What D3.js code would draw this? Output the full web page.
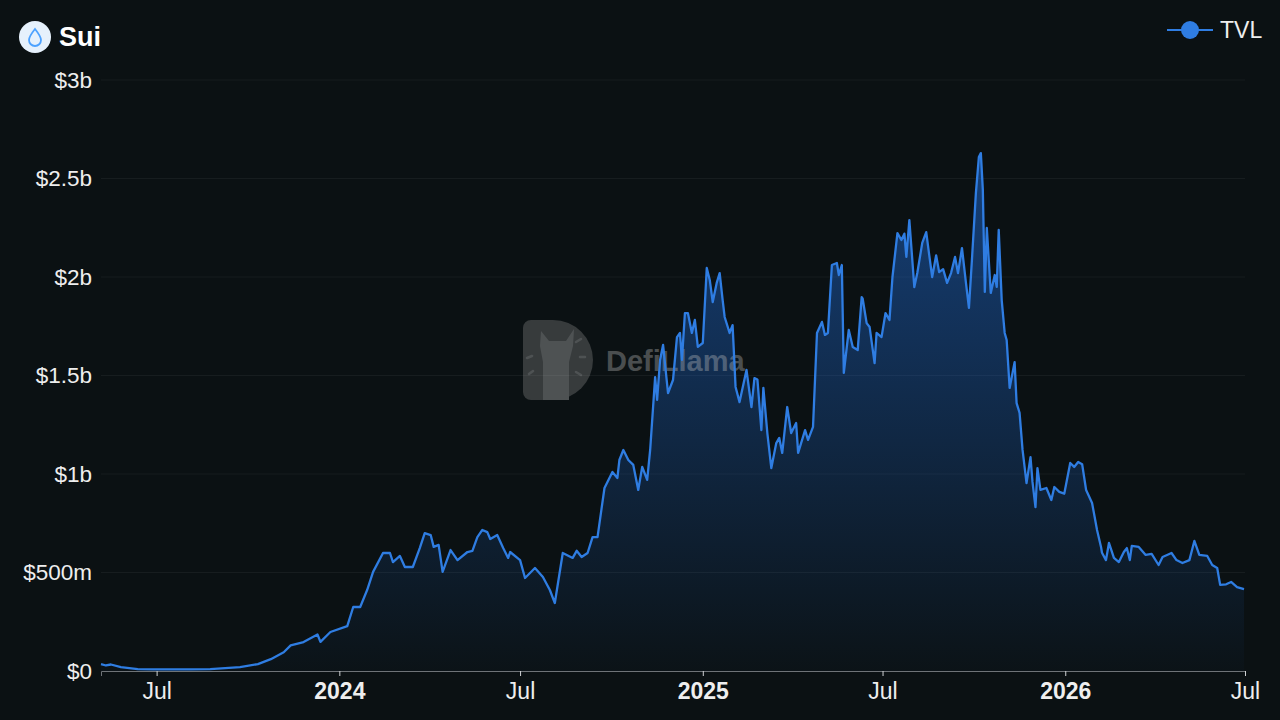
<!DOCTYPE html>
<html>
<head>
<meta charset="utf-8">
<script src="https://cdn.jsdelivr.net/npm/d3@7"></script>
<style>
  html, body { margin: 0; padding: 0; background: #0b1113; }
  svg { display: block; font-family: "Liberation Sans", Arial, sans-serif; }
</style>
</head>
<body>
<svg width="1280" height="720"></svg>
<script>
// TVL readings (USD millions)
const dates = [
  "2023-05-06","2023-05-11","2023-05-16","2023-05-26","2023-06-12","2023-06-28","2023-08-04","2023-08-24","2023-09-08",
  "2023-09-23","2023-10-11","2023-10-24","2023-11-06","2023-11-13","2023-11-26","2023-12-10","2023-12-13",
  "2023-12-23","2024-01-09","2024-01-15","2024-01-22","2024-01-29","2024-02-04","2024-02-14","2024-02-21",
  "2024-02-24","2024-03-02","2024-03-07","2024-03-15","2024-03-22","2024-03-27","2024-04-02","2024-04-05",
  "2024-04-10","2024-04-14","2024-04-22","2024-04-29","2024-05-09","2024-05-14","2024-05-19","2024-05-24",
  "2024-05-29","2024-06-01","2024-06-08","2024-06-14","2024-06-19","2024-06-21","2024-07-01","2024-07-06",
  "2024-07-16","2024-07-24","2024-07-31","2024-08-05","2024-08-13","2024-08-23","2024-08-27","2024-09-01",
  "2024-09-07","2024-09-12","2024-09-17","2024-09-24","2024-10-02","2024-10-07","2024-10-09","2024-10-13",
  "2024-10-18","2024-10-23","2024-10-28","2024-11-01","2024-11-06","2024-11-09","2024-11-14","2024-11-16",
  "2024-11-19","2024-11-22","2024-11-27","2024-12-02","2024-12-06","2024-12-09","2024-12-11","2024-12-14",
  "2024-12-17","2024-12-21","2024-12-24","2024-12-27","2025-01-01","2025-01-05","2025-01-08","2025-01-11",
  "2025-01-15","2025-01-18","2025-01-21","2025-01-23","2025-01-28","2025-01-31","2025-02-03","2025-02-07",
  "2025-02-14","2025-02-19","2025-02-22","2025-02-25","2025-03-01","2025-03-03","2025-03-07","2025-03-11",
  "2025-03-16","2025-03-19","2025-03-22","2025-03-27","2025-03-31","2025-04-05","2025-04-07","2025-04-14",
  "2025-04-17","2025-04-22","2025-04-26","2025-05-01","2025-05-04","2025-05-07","2025-05-11","2025-05-16",
  "2025-05-18","2025-05-21","2025-05-23","2025-05-28","2025-06-01","2025-06-06","2025-06-10","2025-06-11",
  "2025-06-15","2025-06-18","2025-06-23","2025-06-25","2025-06-30","2025-07-04","2025-07-08","2025-07-11",
  "2025-07-16","2025-07-20","2025-07-23","2025-07-25","2025-07-28","2025-08-02","2025-08-05","2025-08-10",
  "2025-08-14","2025-08-17","2025-08-20","2025-08-24","2025-08-27","2025-08-31","2025-09-04","2025-09-08",
  "2025-09-12","2025-09-15","2025-09-19","2025-09-23","2025-09-26","2025-09-29","2025-10-03","2025-10-06",
  "2025-10-08","2025-10-10","2025-10-12","2025-10-14","2025-10-18","2025-10-22","2025-10-24","2025-10-26",
  "2025-10-29","2025-11-01","2025-11-03","2025-11-06","2025-11-11","2025-11-13","2025-11-16","2025-11-19",
  "2025-11-23","2025-11-27","2025-11-29","2025-12-02","2025-12-04","2025-12-07","2025-12-13","2025-12-18",
  "2025-12-21","2025-12-26","2025-12-31","2026-01-06","2026-01-10","2026-01-14","2026-01-18","2026-01-22",
  "2026-01-28","2026-02-02","2026-02-06","2026-02-07","2026-02-11","2026-02-14","2026-02-19","2026-02-24",
  "2026-03-01","2026-03-04","2026-03-07","2026-03-09","2026-03-16","2026-03-23","2026-03-29","2026-04-05",
  "2026-04-09","2026-04-18","2026-04-23","2026-04-29","2026-05-06","2026-05-11","2026-05-16","2026-05-24",
  "2026-05-29","2026-06-03","2026-06-06","2026-06-12","2026-06-17","2026-06-23","2026-06-30"
];
const tvl = [
  35, 28, 33, 20, 10, 8, 8, 10, 15,
  20, 35, 60, 95, 130, 147, 185, 148,
  198, 228, 325, 325, 411, 503, 599, 599,
  553, 584, 528, 528, 624, 700, 690, 630,
  640, 503, 614, 563, 604, 610, 680, 716,
  705, 670, 690, 624, 574, 604, 563, 472,
  523, 477, 411, 345, 599, 574, 610, 579,
  599, 680, 680, 929, 1010, 980, 1071, 1122,
  1071, 1046, 919, 1036, 970, 1122, 1492, 1376,
  1579, 1655, 1411, 1477, 1695, 1716, 1579, 1817,
  1817, 1716, 1782, 1645, 1665, 2046, 1985, 1873,
  1970, 2020, 1883, 1797, 1716, 1756, 1442, 1365,
  1528, 1340, 1487, 1480, 1223, 1437, 1208, 1030,
  1157, 1183, 1107, 1340, 1208, 1259, 1107, 1223,
  1173, 1239, 1716, 1772, 1706, 1716, 2061, 2071,
  2010, 2061, 1513, 1731, 1645, 1629, 1898, 1890,
  1766, 1746, 1563, 1716, 1695, 1817, 1782, 2000,
  2223, 2188, 2220, 2102, 2289, 1949, 2020, 2173,
  2228, 2112, 2000, 2110, 2025, 2040, 1970, 2020,
  2102, 2020, 2147, 1970, 1843, 2086, 2426, 2609,
  2629, 2442, 1924, 2249, 1919, 2010, 1950, 2239,
  1883, 1716, 1680, 1437, 1568, 1360, 1310, 1122,
  954, 1086, 960, 832, 1030, 919, 929, 868,
  934, 909, 900, 1056, 1036, 1061, 1050, 919,
  853, 716, 630, 600, 563, 650, 574, 553,
  604, 624, 563, 635, 630, 589, 595, 538,
  579, 599, 563, 548, 563, 660, 589, 584,
  538, 523, 437, 440, 452, 426, 416
];
const yTicks = [0, 500, 1000, 1500, 2000, 2500, 3000];
const yTickLabels = ["$0", "$500m", "$1b", "$1.5b", "$2b", "$2.5b", "$3b"];
const xTicks = ["2023-07-01", "2024-01-01", "2024-07-01", "2025-01-01", "2025-07-01", "2026-01-01", "2026-07-01"];
const xTickLabels = ["Jul", "2024", "Jul", "2025", "Jul", "2026", "Jul"];

const parse = d3.utcParse("%Y-%m-%d");
const data = dates.map((d, i) => ({date: parse(d), value: tvl[i]}));

const svg = d3.select("svg"),
      width = +svg.attr("width"),
      height = +svg.attr("height");
const margin = {top: 80, right: 35, bottom: 49, left: 101};

const x = d3.scaleUtc()
  .domain([data[0].date, parse("2026-07-01")])
  .range([margin.left, width - margin.right]);
const y = d3.scaleLinear()
  .domain([0, 3000])
  .range([height - margin.bottom, margin.top]);

const defs = svg.append("defs");
const grad = defs.append("linearGradient")
  .attr("id", "fill")
  .attr("gradientUnits", "userSpaceOnUse")
  .attr("x1", 0).attr("x2", 0)
  .attr("y1", y(2700)).attr("y2", y(0));
grad.append("stop").attr("offset", 0).attr("stop-color", "#2172e5").attr("stop-opacity", 0.5);
grad.append("stop").attr("offset", 1).attr("stop-color", "#2172e5").attr("stop-opacity", 0.02);

// grid
svg.append("g")
  .selectAll("line")
  .data(yTicks.slice(1))
  .join("line")
  .attr("x1", margin.left).attr("x2", width - margin.right)
  .attr("y1", d => y(d)).attr("y2", d => y(d))
  .attr("stroke", "#ffffff")
  .attr("stroke-opacity", 0.05);

// y axis
const yAxis = svg.append("g")
  .attr("transform", `translate(${margin.left},0)`)
  .call(d3.axisLeft(y).tickValues(yTicks).tickFormat((d, i) => yTickLabels[i]).tickSize(0).tickPadding(9));
yAxis.select(".domain").remove();
yAxis.selectAll("text")
  .attr("fill", "#eeeeee")
  .attr("font-size", 22.5);

// x axis
const xAxis = svg.append("g")
  .attr("transform", `translate(0,${height - margin.bottom})`)
  .call(d3.axisBottom(x).tickValues(xTicks.map(parse)).tickFormat((d, i) => xTickLabels[i]).tickSize(5).tickPadding(7));
xAxis.select(".domain").attr("stroke", "#6e7377");
xAxis.selectAll("line").attr("stroke", "#cfd2d4");
xAxis.selectAll("text")
  .attr("fill", "#eeeeee")
  .attr("font-size", 23)
  .attr("font-weight", (d, i) => xTickLabels[i] === "Jul" ? "normal" : "bold");

// area
svg.append("path")
  .datum(data)
  .attr("fill", "url(#fill)")
  .attr("d", d3.area().x(d => x(d.date)).y0(y(0)).y1(d => y(d.value)));

// watermark
const wm = svg.append("g").attr("opacity", 0.34);
wm.append("path")
  .attr("d", "M523,328 a8,8 0 0 1 8,-8 h22 a40,40 0 0 1 0,80 h-22 a8,8 0 0 1 -8,-8 z")
  .attr("fill", "#8c8c8c");
wm.append("path")
  .attr("d", "M541,331 L549,341 L566,341 L574,329 L573,346 L569,362 L569,400 L543,400 L543,362 L540,346 Z")
  .attr("fill", "#d0d0d0");
wm.append("g")
  .selectAll("line")
  .data([[527, 358, 532, 356], [529, 374, 533, 371], [576, 342, 581, 339], [580, 357, 585, 357], [576, 372, 581, 375]])
  .join("line")
  .attr("x1", d => d[0]).attr("y1", d => d[1]).attr("x2", d => d[2]).attr("y2", d => d[3])
  .attr("stroke", "#d0d0d0").attr("stroke-width", 2.5).attr("stroke-linecap", "round");
wm.append("text")
  .attr("x", 606).attr("y", 371)
  .attr("font-size", 29).attr("font-weight", "bold")
  .attr("fill", "#c4c4c4")
  .text("DefiLlama");

// line
svg.append("path")
  .datum(data)
  .attr("fill", "none")
  .attr("stroke", "#2f7de2")
  .attr("stroke-width", 2.3)
  .attr("stroke-linejoin", "round")
  .attr("d", d3.line().x(d => x(d.date)).y(d => y(d.value)));

// title
const title = svg.append("g").attr("transform", "translate(35,37)");
title.append("circle").attr("r", 16).attr("fill", "#e6f1fc");
title.append("path")
  .attr("d", "M0,-8 C4,-3 6,0 6,3 A6,6 0 0 1 -6,3 C-6,0 -4,-3 0,-8 Z")
  .attr("fill", "none").attr("stroke", "#4da2ff").attr("stroke-width", 1.8);
svg.append("text")
  .attr("x", 59).attr("y", 46)
  .attr("font-size", 27).attr("font-weight", "bold")
  .attr("fill", "#ffffff")
  .text("Sui");

// legend
const legend = svg.append("g").attr("transform", "translate(1190,30)");
legend.append("line").attr("x1", -23).attr("x2", 23).attr("stroke", "#2f7de2").attr("stroke-width", 2);
legend.append("circle").attr("r", 9).attr("fill", "#2f7de2");
legend.append("text")
  .attr("x", 30).attr("y", 8)
  .attr("font-size", 23)
  .attr("fill", "#eeeeee")
  .text("TVL");
</script>
</body>
</html>
